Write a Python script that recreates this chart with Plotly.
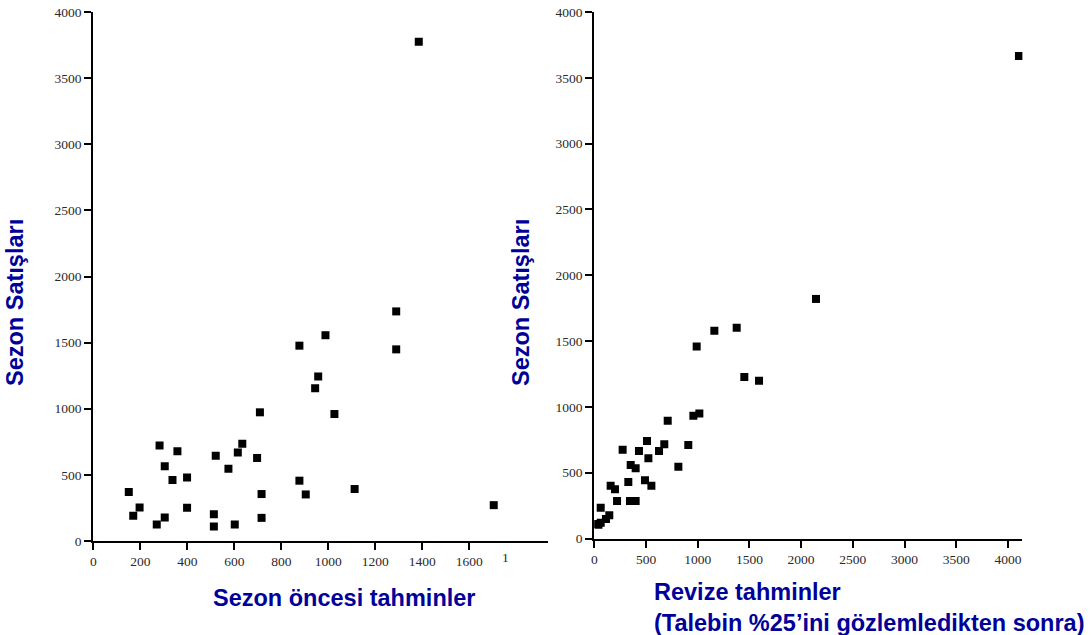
import plotly.graph_objects as go

# Left chart: pre-season forecast vs season sales
pre_forecast = [151, 170, 197, 270, 282, 304, 304, 337, 358, 399, 399, 513, 513, 521,
                575, 602, 615, 634, 697, 709, 716, 716, 877, 877, 904, 944, 957, 988,
                1026, 1112, 1289, 1289, 1704, 1385]
pre_sales = [370, 190, 253, 124, 722, 565, 177, 461, 679, 481, 251, 203, 109, 644,
             547, 124, 669, 735, 628, 973, 355, 175, 1477, 456, 352, 1155, 1244, 1556,
             960, 393, 1736, 1449, 271, 3775]

# Right chart: revised forecast vs season sales
rev_forecast = [23, 62, 40, 62, 113, 145, 158, 200, 220, 274, 329, 352, 345, 400, 400,
                432, 490, 510, 523, 552, 626, 677, 710, 813, 909, 958, 1016, 990, 1161,
                1377, 1451, 1593, 2144, 4107]
rev_sales = [110, 120, 105, 234, 148, 176, 401, 374, 285, 675, 429, 558, 285, 533, 285,
             665, 442, 741, 609, 401, 665, 716, 895, 546, 710, 933, 949, 1458, 1579,
             1602, 1227, 1199, 1820, 3666]

y_ticks = [0, 500, 1000, 1500, 2000, 2500, 3000, 3500, 4000]
left_x_ticks = [0, 200, 400, 600, 800, 1000, 1200, 1400, 1600]
right_x_ticks = [0, 500, 1000, 1500, 2000, 2500, 3000, 3500, 4000]

y_title = "Sezon Satışları"
left_x_title = "Sezon öncesi tahminler"
right_x_title = "Revize tahminler<br>(Talebin %25’ini gözlemledikten sonra)"

W, H = 1092, 635
tick_font = dict(family="Liberation Serif", size=13.5, color="#2a2a2a")
title_font = dict(family="Liberation Sans", size=23.5, color="#000099")

L_dom_x = [93.3 / W, 548 / W]
L_dom_y = [1 - 541 / H, 1 - 12 / H]
R_dom_x = [594.3 / W, 1022.4 / W]
R_dom_y = [1 - 538.5 / H, 1 - 12 / H]
L_xr = [0, (548 - 93.3) / 0.235]
R_xr = [0, (1022.4 - 594.3) / 0.1034]
yr = [0, 4000]

fig = go.Figure()
marker = dict(symbol="square", size=8, color="black", line=dict(width=0))
fig.add_trace(go.Scatter(x=pre_forecast, y=pre_sales, mode="markers", marker=marker,
                         xaxis="x", yaxis="y", showlegend=False))
fig.add_trace(go.Scatter(x=rev_forecast, y=rev_sales, mode="markers", marker=marker,
                         xaxis="x2", yaxis="y2", showlegend=False))

base = dict(showgrid=False, zeroline=False, showline=True, linecolor="black", linewidth=2,
            ticks="outside", ticklen=7, tickwidth=2, tickcolor="black", tickfont=tick_font,
            fixedrange=True, automargin=False)
inner = dict(showgrid=False, zeroline=False, showline=False, ticks="inside", ticklen=7,
             tickwidth=2, tickcolor="black", showticklabels=False, fixedrange=True,
             automargin=False)

fig.update_layout(
    width=W, height=H, margin=dict(l=0, r=0, t=0, b=0, pad=0, autoexpand=False),
    paper_bgcolor="white", plot_bgcolor="white",
    xaxis=dict(base, domain=L_dom_x, range=L_xr, tickvals=left_x_ticks, anchor="y"),
    yaxis=dict(base, domain=L_dom_y, range=yr, tickvals=y_ticks, anchor="x"),
    xaxis2=dict(base, domain=R_dom_x, range=R_xr, tickvals=right_x_ticks, anchor="y2"),
    yaxis2=dict(base, domain=R_dom_y, range=yr, tickvals=y_ticks, anchor="x2"),
    xaxis3=dict(inner, overlaying="x", range=L_xr, tickvals=left_x_ticks, anchor="y", side="bottom"),
    yaxis3=dict(inner, overlaying="y", range=yr, tickvals=y_ticks, anchor="x", side="left"),
    xaxis4=dict(inner, overlaying="x2", range=R_xr, tickvals=right_x_ticks, anchor="y2", side="bottom"),
    yaxis4=dict(inner, overlaying="y2", range=yr, tickvals=y_ticks, anchor="x2", side="left"),
)

anns = [
    dict(text="<b>" + y_title + "</b>", x=15 / W, y=1 - 303 / H, textangle=-90),
    dict(text="<b>" + y_title + "</b>", x=521 / W, y=1 - 303 / H, textangle=-90),
    dict(text="<b>" + left_x_title + "</b>", x=344 / W, y=1 - 598 / H),
    dict(text="<b>" + right_x_title + "</b>", x=652 / W, y=1 - 607 / H, xanchor="left", align="left"),
]
for a in anns:
    a.setdefault("xanchor", "center")
    fig.add_annotation(xref="paper", yref="paper", showarrow=False, yanchor="middle",
                       font=title_font, **a)
# truncated tick label at 1800 on the left axis
fig.add_annotation(xref="x", yref="paper", x=1752, y=1 - 557 / H, text="1", showarrow=False,
                   font=tick_font, xanchor="center", yanchor="middle")

fig.write_html("out.html", config={"displayModeBar": False},
               post_script="document.body.style.margin='0';document.body.style.overflow='hidden';")
